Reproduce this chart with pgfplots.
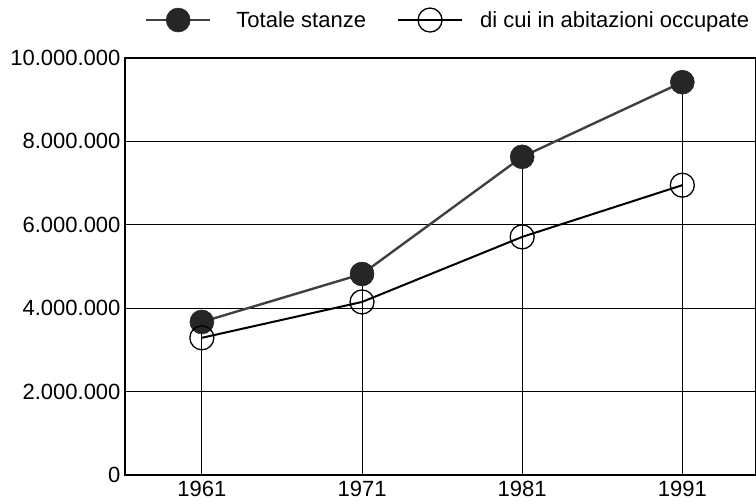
\documentclass[border=0pt]{standalone}
\usepackage{fontspec}
\setmainfont{Liberation Sans}
\usepackage{pgfplots}
\pgfplotsset{compat=1.18}
\begin{document}
\begin{tikzpicture}
\begin{axis}[
  scale only axis,
  width=631pt, height=417pt,
  xmin=-0.48, xmax=3.46,
  ymin=0, ymax=10000000,
  xtick={0,1,2,3},
  xticklabels={1961,1971,1981,1991},
  ytick={0,2000000,4000000,6000000,8000000,10000000},
  scaled y ticks=false,
  yticklabel style={/pgf/number format/fixed, /pgf/number format/precision=0, /pgf/number format/1000 sep={.}, /pgf/number format/assume math mode=true, xshift=-1pt},
  ticklabel style={font=\fontsize{22}{24}\selectfont},
  major tick length=0pt,
  ymajorgrids,
  grid style={black, line width=0.8pt},
  axis line style={black, line width=2.2pt},
  xticklabel style={yshift=-3pt},
  legend columns=2,
  legend style={draw=none, fill=none, at={(0.512,1.091)}, anchor=center, font=\fontsize{22}{24}\selectfont,
    /tikz/every even column/.append style={column sep=29pt}},
  legend cell align=left,
  legend image code/.code={\draw[#1, mark=none] (0pt,0pt) -- (64pt,0pt);
    \draw[#1, only marks] plot coordinates {(32pt,0pt)};},
]
\coordinate (sw) at (rel axis cs:0,0);
\coordinate (ne) at (rel axis cs:1,1);
\addplot[ycomb, black, line width=0.8pt, no marks, forget plot] coordinates {(0,3670000)(1,4820000)(2,7630000)(3,9420000)};
\addplot[color=black!75, line width=2.4pt, mark=*, mark size=12pt, mark options={fill=black!85, draw=black!85, line width=0.5pt}] coordinates {(0,3670000)(1,4820000)(2,7630000)(3,9420000)};
\addlegendentry{\hspace{23pt}Totale stanze}
\addplot[color=black, line width=2pt, mark=o, mark size=12pt, mark options={draw=black, line width=1.3pt}] coordinates {(0,3290000)(1,4150000)(2,5710000)(3,6950000)};
\addlegendentry{\hspace{15pt}di cui in abitazioni occupate}
\end{axis}
\pgfresetboundingbox
\path[use as bounding box] ([xshift=-125pt,yshift=-28pt]sw) rectangle ([yshift=58pt]ne);
\end{tikzpicture}
\end{document}
